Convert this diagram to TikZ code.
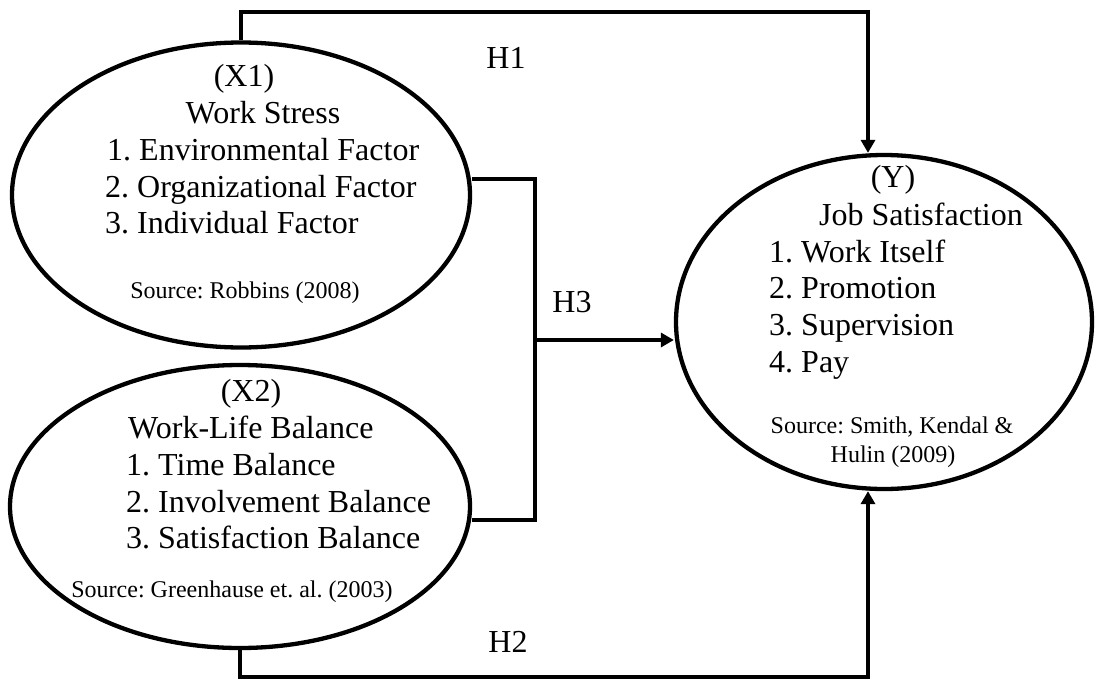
\documentclass[tikz,border=0pt]{standalone}
\usepackage{fontspec}
\setmainfont{Liberation Serif}
\usetikzlibrary{shapes.geometric,arrows.meta}
\frenchspacing
\begin{document}
\begin{tikzpicture}[x=1pt,y=-1pt,
  oval/.style={draw, ellipse, line width=4.3pt, inner sep=0pt},
  conn/.style={line width=4.5pt},
  arr/.style={conn, -{Triangle[length=13pt,width=14pt]}},
  big/.style={inner sep=0pt, font=\fontsize{32pt}{37pt}\selectfont},
  small/.style={inner sep=0pt, font=\fontsize{24pt}{28pt}\selectfont}]
\useasboundingbox (0,0) rectangle (1097,680);
% ovals
\node[oval, minimum width=458pt, minimum height=305pt] (X1) at (241,195) {};
\node[oval, minimum width=460pt, minimum height=283pt] (X2) at (240,506.5) {};
\node[oval, minimum width=416pt, minimum height=334pt] (Y) at (884,322) {};
% X1 texts
\node[big, anchor=base] (x1a) at (244,86) {(X1)};
\node[big, anchor=base] (x1b) at (263,123) {Work Stress};
\node[big, anchor=base west] (x1c) at (107,160) {1. Environmental Factor};
\node[big, anchor=base west] (x1d) at (105,197) {2. Organizational Factor};
\node[big, anchor=base west] (x1e) at (105,233) {3. Individual Factor};
\node[small, anchor=base] (x1f) at (245,298) {Source: Robbins (2008)};
% X2 texts
\node[big, anchor=base] (x2a) at (251,401) {(X2)};
\node[big, anchor=base west] (x2b) at (128,438) {Work-Life Balance};
\node[big, anchor=base west] (x2c) at (126,475) {1. Time Balance};
\node[big, anchor=base west] (x2d) at (126,512) {2. Involvement Balance};
\node[big, anchor=base west] (x2e) at (126,548) {3. Satisfaction Balance};
\node[small, anchor=base] (x2f) at (232,597) {Source: Greenhause et. al. (2003)};
% Y texts
\node[big, anchor=base] (ya) at (893,187) {(Y)};
\node[big, anchor=base] (yb) at (921,225) {Job Satisfaction};
\node[big, anchor=base west] (yc) at (769,262) {1. Work Itself};
\node[big, anchor=base west] (yd) at (769,298) {2. Promotion};
\node[big, anchor=base west] (ye) at (769,335) {3. Supervision};
\node[big, anchor=base west] (yf) at (769,372) {4. Pay};
\node[small, anchor=base] (yg) at (892,433) {Source: Smith, Kendal \&};
\node[small, anchor=base] (yh) at (893,462) {Hulin (2009)};
% connectors
\coordinate (h1) at (868,12);
\coordinate (h2) at (868,677);
\coordinate (j1) at (535,179);
\coordinate (j2) at (535,520);
\coordinate (j3) at (535,340);
\draw[arr] (X1.north) |- (h1) -- (Y.north -| h1);
\draw[arr] (X2.south) |- (h2) -- (Y.south -| h2);
\draw[conn] (X1.east |- j1) -- (j1) -- (j2) -- (X2.east |- j2);
\draw[arr] (j3) -- (Y.west |- j3);
% labels
\node[big, anchor=base] (lh1) at (506,68) {H1};
\node[big, anchor=base] (lh3) at (572,312) {H3};
\node[big, anchor=base] (lh2) at (508,652) {H2};
\end{tikzpicture}
\end{document}
